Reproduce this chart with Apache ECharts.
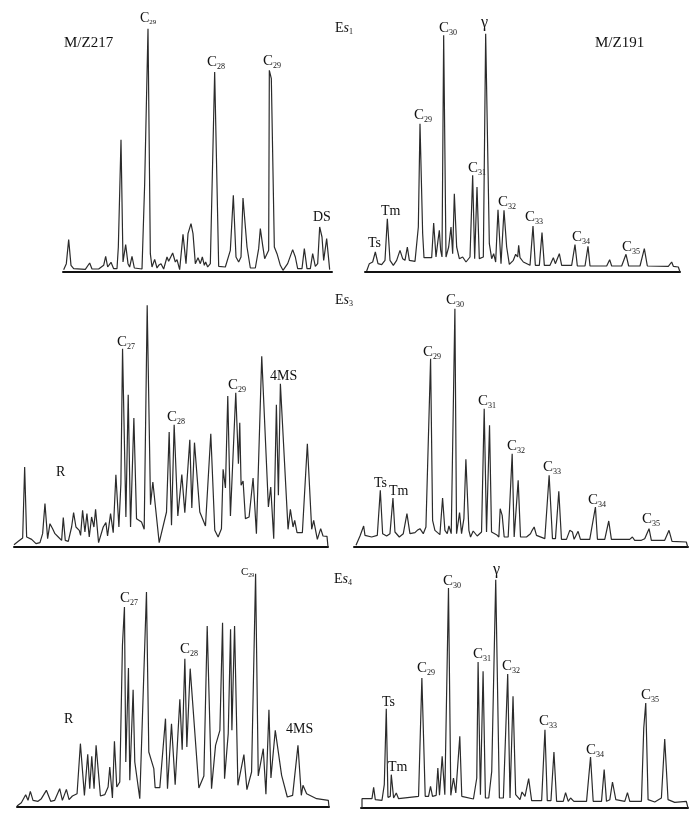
<!DOCTYPE html>
<html>
<head>
<meta charset="utf-8">
<title>M/Z217 M/Z191</title>
<script src="https://cdn.jsdelivr.net/npm/echarts@6/dist/echarts.min.js"></script>
<style>
  html, body { margin: 0; background: #fff; }
  #chart { width: 700px; height: 822px; }
</style>
</head>
<body>
<div id="chart"></div>
<script>
// peaks: [retention, intensity]
const es1m217 = [[40,7],[48,25],[55,97],[62,20],[70,10],[105,8],[118,27],[125,9],[145,9],[160,20],[166,47],[172,15],[182,29],[190,10],[200,10],[204,75],[212,397],[218,30],[226,82],[233,25],[238,15],[245,47],[252,12],[275,9],[283,265],[293,730],[300,55],[305,15],[313,38],[320,12],[325,20],[332,25],[340,9],[350,45],[355,32],[367,57],[375,30],[380,37],[388,7],[398,113],[407,25],[413,115],[422,145],[428,115],[435,25],[443,43],[450,25],[456,45],[462,20],[466,30],[472,15],[480,25],[493,600],[505,17],[510,12],[525,15],[540,65],[549,230],[557,45],[565,30],[572,45],[578,222],[590,75],[600,12],[615,12],[625,70],[630,130],[637,80],[643,40],[655,65],[657,605],[663,580],[672,75],[680,55],[690,20],[698,5],[712,25],[727,67],[735,45],[742,10],[755,10],[762,70],[770,10],[780,10],[787,55],[795,17],[802,25],[808,135],[815,105],[820,35],[829,100],[838,7]]
const es1m191 = [[50,3],[58,25],[68,30],[76,60],[84,25],[95,22],[105,35],[112,160],[120,35],[130,20],[140,35],[150,65],[158,40],[165,35],[172,75],[178,35],[195,32],[205,135],[210,445],[218,115],[222,43],[245,43],[251,147],[258,45],[264,95],[268,125],[272,65],[276,45],[281,710],[288,45],[296,75],[303,135],[308,55],[313,235],[320,75],[328,40],[338,45],[348,30],[360,45],[368,290],[374,40],[381,255],[388,40],[400,45],[407,715],[418,85],[425,40],[431,55],[437,30],[444,187],[453,25],[462,185],[470,75],[478,23],[490,35],[497,53],[503,45],[506,80],[510,43],[520,30],[540,20],[549,138],[556,20],[568,20],[576,118],[583,20],[600,20],[610,43],[616,25],[628,55],[635,20],[665,20],[675,82],[682,18],[705,18],[714,77],[720,18],[770,18],[779,37],[785,18],[815,18],[828,53],[836,18],[870,18],[883,70],[892,18],[955,17],[965,30],[970,17],[985,15],[990,0]]
const es3m217 = [[42,7],[55,17],[68,27],[74,240],[80,30],[95,23],[108,10],[120,13],[128,40],[135,130],[143,25],[150,70],[158,55],[165,40],[175,30],[185,20],[190,88],[196,20],[205,17],[215,60],[221,103],[228,60],[238,50],[242,35],[248,110],[255,45],[261,100],[268,30],[275,90],[282,60],[287,113],[296,13],[310,60],[318,73],[323,33],[332,100],[340,43],[348,217],[357,60],[363,190],[368,595],[378,90],[385,457],[392,60],[402,387],[410,85],[425,75],[433,53],[442,725],[452,127],[459,195],[478,13],[500,105],[508,345],[515,65],[523,367],[534,93],[546,217],[555,103],[570,322],[576,117],[584,313],[600,105],[617,63],[633,340],[645,50],[655,30],[665,55],[670,233],[677,177],[684,453],[692,93],[708,463],[716,250],[720,373],[724,185],[730,198],[737,85],[748,90],[760,207],[770,40],[786,572],[806,120],[813,180],[822,25],[830,427],[836,155],[842,490],[865,53],[872,113],[880,60],[885,80],[892,43],[908,43],[923,310],[936,53],[942,80],[953,23],[963,55],[970,33],[982,32],[985,0]]
const es3m191 = [[48,5],[60,33],[66,33],[71,63],[75,35],[95,30],[112,35],[121,170],[128,40],[140,33],[150,40],[159,147],[165,45],[178,30],[190,40],[201,100],[210,40],[225,43],[232,50],[240,55],[250,40],[258,60],[272,565],[278,80],[285,50],[293,43],[300,37],[308,147],[315,50],[322,40],[327,63],[334,40],[345,715],[350,40],[359,103],[365,40],[372,85],[378,263],[387,50],[392,30],[400,48],[412,33],[425,45],[433,415],[440,45],[449,365],[455,45],[470,37],[477,30],[481,115],[487,95],[493,30],[505,30],[517,280],[523,30],[528,35],[535,200],[542,30],[560,30],[572,40],[577,50],[583,60],[590,35],[615,25],[628,215],[638,25],[647,25],[657,167],[665,23],[680,23],[690,50],[698,45],[703,23],[715,47],[722,23],[750,23],[767,120],[773,23],[795,23],[807,78],[815,23],[870,23],[878,30],[885,20],[905,20],[915,25],[921,20],[928,55],[935,20],[975,20],[988,50],[997,17],[1040,15],[1044,0]]
const es4m217 = [[52,3],[65,13],[78,37],[85,20],[92,47],[100,20],[115,17],[125,25],[140,50],[153,17],[165,20],[180,55],[188,20],[200,53],[208,22],[218,33],[232,40],[242,190],[254,35],[264,158],[270,55],[276,152],[283,55],[289,185],[302,33],[315,37],[325,60],[330,120],[338,27],[344,197],[351,60],[360,75],[368,485],[374,600],[378,135],[386,417],[390,80],[400,352],[405,135],[420,25],[440,645],[447,165],[462,115],[466,58],[480,58],[497,265],[503,55],[515,250],[526,67],[540,323],[547,172],[555,445],[561,180],[571,415],[597,57],[612,93],[622,543],[635,55],[647,185],[660,230],[668,553],[674,85],[685,220],[692,533],[696,230],[704,543],[714,65],[732,157],[741,52],[755,105],[767,700],[775,93],[790,175],[798,38],[807,292],[813,87],[826,230],[845,95],[862,30],[878,35],[894,185],[904,35],[909,65],[920,40],[950,25],[985,20],[987,0]]
const es4m191 = [[65,0],[65,28],[95,28],[100,62],[105,25],[125,23],[132,70],[138,298],[143,32],[150,35],[153,100],[160,30],[168,45],[175,28],[235,35],[245,390],[255,35],[265,35],[271,65],[277,35],[288,38],[293,120],[298,38],[306,155],[314,40],[325,660],[332,38],[340,90],[347,45],[359,215],[365,35],[400,27],[410,90],[414,438],[421,40],[429,410],[436,30],[446,30],[455,110],[467,685],[478,30],[490,30],[503,402],[510,30],[519,335],[527,40],[540,25],[546,48],[555,35],[566,88],[575,22],[605,22],[615,235],[622,22],[633,22],[642,168],[650,20],[670,20],[677,46],[685,20],[692,30],[702,20],[740,20],[752,153],[760,20],[785,20],[793,115],[800,20],[810,25],[818,78],[828,25],[855,20],[863,46],[870,20],[905,20],[912,240],[918,315],[925,25],[945,18],[965,30],[975,207],[985,25],[1005,17],[1040,20],[1045,0]]

// 每个面板的位置 (px): 左, 基线, 宽, 横轴范围
const panels = [
  { data: es1m217, left: 63, base: 272, width: 269, min: 38, max: 845 },
  { data: es1m191, left: 365, base: 272, width: 315, min: 45, max: 990 },
  { data: es3m217, left: 14, base: 547, width: 314, min: 42, max: 985 },
  { data: es3m191, left: 354, base: 547, width: 334, min: 42, max: 1045 },
  { data: es4m217, left: 17, base: 807, width: 312, min: 52, max: 987 },
  { data: es4m191, left: 361, base: 808, width: 327, min: 62, max: 1045 }
]
const yMax = 750
const gridHeight = 250

// 标注: 文字, 左, 中线y, 字号
const peakLabels = [
  ['C|29', 140, 18, 14], ['C|28', 207, 62, 15], ['C|29', 263, 61, 15], ['DS', 313, 217, 14],
  ['C|30', 439, 28, 15], ['γ', 481, 23, 16], ['C|29', 414, 115, 15], ['C|31', 468, 168, 15],
  ['C|32', 498, 202, 15], ['C|33', 525, 217, 15], ['Tm', 381, 211, 14], ['Ts', 368, 243, 14],
  ['C|34', 572, 237, 15], ['C|35', 622, 247, 15],
  ['C|27', 117, 342, 15], ['R', 56, 472, 14], ['C|28', 167, 417, 15], ['C|29', 228, 385, 15], ['4MS', 270, 376, 14],
  ['C|30', 446, 300, 15], ['C|29', 423, 352, 15], ['C|31', 478, 401, 15], ['C|32', 507, 446, 15],
  ['C|33', 543, 467, 15], ['Ts', 374, 483, 14], ['Tm', 389, 491, 14], ['C|34', 588, 500, 15], ['C|35', 642, 519, 15],
  ['C|27', 120, 598, 15], ['R', 64, 719, 14], ['C|28', 180, 649, 15], ['C|29', 241, 572, 11], ['4MS', 286, 729, 14],
  ['C|30', 443, 581, 15], ['γ', 493, 570, 16], ['C|29', 417, 668, 15], ['Ts', 382, 702, 14], ['Tm', 388, 767, 14],
  ['C|31', 473, 654, 15], ['C|32', 502, 666, 15], ['C|33', 539, 721, 15], ['C|34', 586, 750, 15], ['C|35', 641, 695, 15],
  ['M/Z217', 64, 43, 15], ['M/Z191', 595, 43, 15]
]
const sectionLabels = [['1', 335, 28], ['3', 335, 300], ['4', 334, 579]]

const fontFamily = '"Liberation Serif", serif'

const makeLabel = ([label, x, y, size]) => {
  const [main, sub] = label.split('|')
  const rich = {
    m: { fontFamily, fontSize: size, lineHeight: size + 2, fill: '#111' },
    s: { fontFamily, fontSize: Math.round(size * 0.5), lineHeight: size + 2, fill: '#111', verticalAlign: 'bottom' }
  }
  return {
    type: 'text',
    x,
    y,
    style: {
      text: sub ? `{m|${main}}{s|${sub}}` : `{m|${main}}`,
      rich,
      verticalAlign: 'middle'
    }
  }
}

const makeSection = ([n, x, y]) => ({
  type: 'text',
  x,
  y,
  style: {
    text: `{m|E}{i|s}{s|${n}}`,
    rich: {
      m: { fontFamily, fontSize: 14, lineHeight: 15, fill: '#111' },
      i: { fontFamily, fontSize: 14, fontStyle: 'italic', lineHeight: 15, fill: '#111' },
      s: { fontFamily, fontSize: 8, lineHeight: 15, fill: '#111', verticalAlign: 'bottom' }
    },
    verticalAlign: 'middle'
  }
})

const chart = echarts.init(document.getElementById('chart'), null, { renderer: 'canvas' })

chart.setOption({
  backgroundColor: '#fff',
  animation: false,
  grid: panels.map(p => ({
    left: p.left,
    top: p.base - gridHeight,
    width: p.width,
    height: gridHeight
  })),
  xAxis: panels.map((p, i) => ({
    type: 'value',
    gridIndex: i,
    min: p.min,
    max: p.max,
    axisLine: { show: true, onZero: false, lineStyle: { color: '#111', width: 2 } },
    axisTick: { show: false },
    axisLabel: { show: false },
    splitLine: { show: false }
  })),
  yAxis: panels.map((p, i) => ({
    type: 'value',
    gridIndex: i,
    min: 0,
    max: yMax,
    show: false,
    splitLine: { show: false }
  })),
  series: panels.map((p, i) => ({
    type: 'line',
    xAxisIndex: i,
    yAxisIndex: i,
    data: p.data,
    showSymbol: false,
    smooth: false,
    lineStyle: { color: '#2b2b2b', width: 1.2 }
  })),
  graphic: [...peakLabels.map(makeLabel), ...sectionLabels.map(makeSection)]
})
</script>
</body>
</html>
